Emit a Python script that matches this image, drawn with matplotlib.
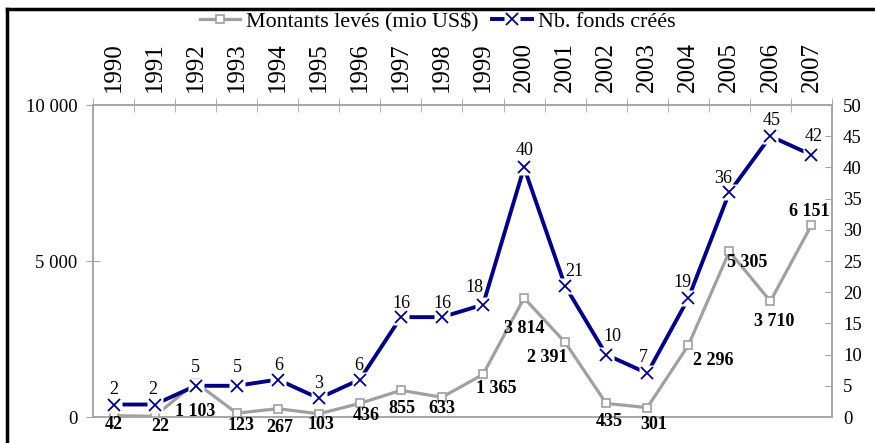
import matplotlib
matplotlib.use('Agg')
import numpy as np
import matplotlib.pyplot as plt
from matplotlib.lines import Line2D
from matplotlib.legend_handler import HandlerTuple

# data
years = ['1990', '1991', '1992', '1993', '1994', '1995', '1996', '1997', '1998',
         '1999', '2000', '2001', '2002', '2003', '2004', '2005', '2006', '2007']
montants = [42, 22, 1103, 123, 267, 103, 436, 855, 633, 1365, 3814, 2391, 435, 301, 2296, 5305, 3710, 6151]
fonds = [2, 2, 5, 5, 6, 3, 6, 16, 16, 18, 40, 21, 10, 7, 19, 36, 45, 42]

# label offsets in pixels (hand placed like in the original)
grayOff = [(0, -9), (6, -10), (0, -29), (4, -12), (2, -19), (2, -11), (6, -12), (1, -18), (0, -11),
           (13, -14), (0, -30), (-18, -15), (3, -18), (6, -17), (25, -15), (18, -11), (4, -20), (-2, 14)]
blueOff = [(0, 15), (-2, 15), (0, 18), (1, 18), (1, 14), (0, 15), (-1, 14), (1, 14), (0, 14),
           (-9, 17), (0, 17), (9, 14), (6, 18), (-4, 16), (-6, 16), (-6, 14), (1, 16), (2, 18)]

plt.rcParams['font.family'] = ['Liberation Serif', 'DejaVu Serif']

GRAY = '#A0A0A0'
NAVY = '#000080'
SPINE = '#A6A6A6'


def fmt(v):
    return f"{v:,}".replace(",", " ")


fig = plt.figure(figsize=(8.75, 4.43), dpi=100)
W, H = 875, 443
ax = fig.add_axes([93 / W, 1 - 417 / H, (832 - 93) / W, (417 - 105) / H])
ax2 = ax.twinx()

x = np.arange(len(years))

ax.plot(x, montants, color=GRAY, lw=2.3, marker='s', ms=6, mfc='white', mec=GRAY, mew=1.2, zorder=3)
ax.set_ylim(0, 10000)
ax.set_xlim(-0.5, len(years) - 0.5)
ax.set_yticks([0, 5000, 10000])
ax.set_yticklabels([fmt(v) for v in [0, 5000, 10000]], fontsize=13.5)
ax.tick_params(axis='y', direction='inout', length=10, color=SPINE, pad=6)

ax.set_xticks(x)
ax.set_xticklabels(years, rotation=90, fontsize=18)
ax.set_xticks(np.arange(-0.5, len(years), 1), minor=True)
ax.tick_params(axis='x', which='both', top=True, bottom=False, labeltop=True, labelbottom=False)
ax.tick_params(axis='x', which='major', length=0, pad=9)
ax.tick_params(axis='x', which='minor', direction='inout', length=10, color=SPINE)

ax2.plot(x, fonds, color=NAVY, lw=2.8, zorder=2)
ax2.plot(x, fonds, ls='none', marker='s', ms=11, mfc='white', mec='none', zorder=3)
ax2.plot(x, fonds, ls='none', marker='x', ms=9, mec=NAVY, mew=1.3, zorder=4)
ax2.set_ylim(0, 50)
ax2.set_yticks(range(0, 51, 5))
ax2.tick_params(axis='y', direction='in', length=5, color=SPINE, labelsize=13.5, pad=8)

for a in (ax, ax2):
    for s in a.spines.values():
        s.set_color(SPINE)
        s.set_linewidth(1.2)

for i, v in enumerate(montants):
    ax2.annotate(fmt(v), (x[i], v / 200.0), xytext=grayOff[i], textcoords='offset pixels',
                 ha='center', va='center', fontsize=13, fontweight='bold', zorder=5)
for i, v in enumerate(fonds):
    ax2.annotate(str(v), (x[i], v), xytext=blueOff[i], textcoords='offset pixels',
                 ha='center', va='center', fontsize=13, zorder=5)

grayHandle = Line2D([], [], color=GRAY, lw=2.3, marker='s', ms=6, mfc='white', mec=GRAY, mew=1.2)
navyHandle = (Line2D([], [], color=NAVY, lw=2.8),
              Line2D([], [], ls='none', marker='s', ms=11, mfc='white', mec='none'),
              Line2D([], [], ls='none', marker='x', ms=9, mec=NAVY, mew=1.3))
fig.legend([grayHandle, navyHandle], ['Montants levés (mio US$)', 'Nb. fonds créés'], loc='center',
           bbox_to_anchor=(438 / W, 1 - 22 / H), ncol=2, frameon=False, fontsize=15.8,
           handlelength=1.8, handletextpad=0.3, columnspacing=0.6,
           handler_map={tuple: HandlerTuple(ndivide=1)})

# outer black frame (left and top edges visible)
fig.add_artist(Line2D([6.5 / W, 6.5 / W], [0, 1 - 8.5 / H], color='black', lw=2.5, transform=fig.transFigure))
fig.add_artist(Line2D([6.5 / W, 1], [1 - 8.5 / H, 1 - 8.5 / H], color='black', lw=2.5, transform=fig.transFigure))

fig.savefig('out.png', dpi=100)
